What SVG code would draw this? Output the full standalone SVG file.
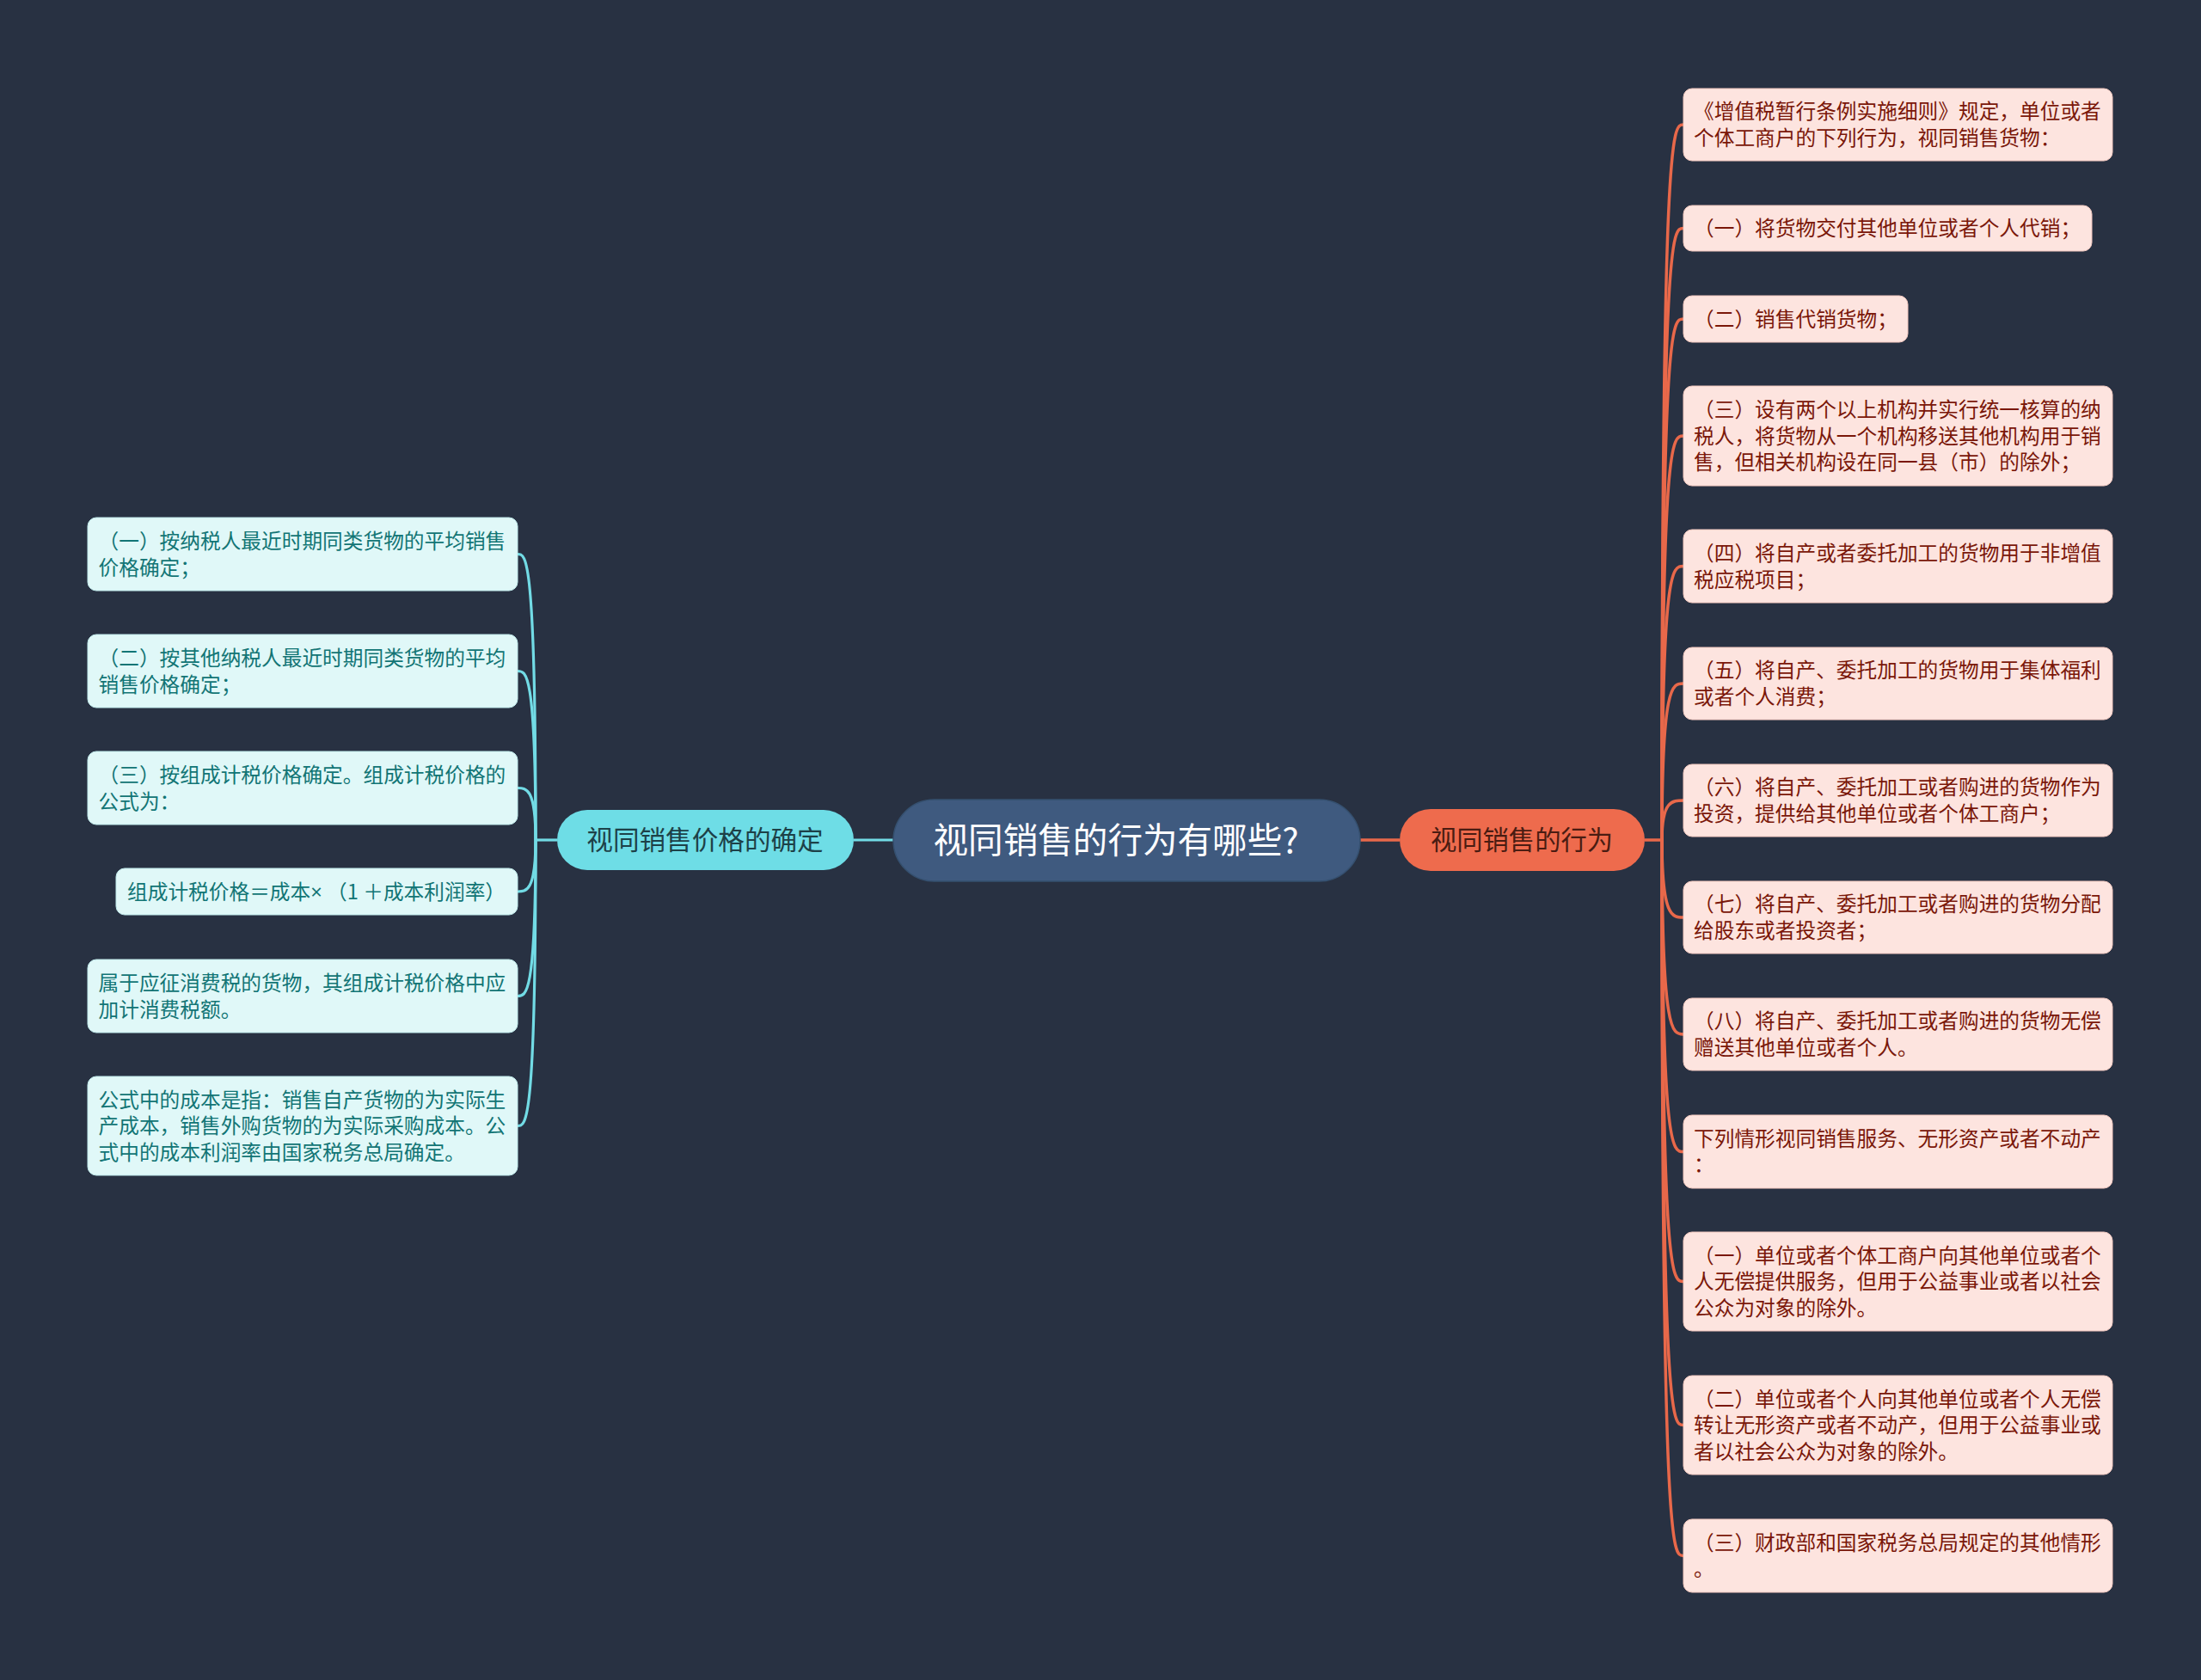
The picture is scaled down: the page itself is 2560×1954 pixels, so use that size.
<svg xmlns="http://www.w3.org/2000/svg" width="2560" height="1954" viewBox="0 0 2560 1954">
<style>
.bg{fill:#283142}
.t{font-family:"Noto Sans CJK SC","Noto Sans",sans-serif}
.rb{fill:#fde4df;stroke:#f3c9c0;stroke-width:1}
.lb{fill:#e0f8f8;stroke:#bfe9ea;stroke-width:1}
.rt{fill:#7a1709;font-size:23.7px}
.lt{fill:#127575;font-size:23.7px}
.oc{fill:none;stroke:#e8684a;stroke-width:3.5}
.cc{fill:none;stroke:#72dbe5;stroke-width:3.2}
</style>
<rect class="bg" x="0" y="0" width="2560" height="1954"/>
<g id="connectors">
<path class="oc" d="M1582 977 H1628" stroke-width="4"/>
<path class="cc" d="M993 977 H1039" stroke-width="4"/>
<path class="oc" d="M1913 977 H1933"/>
<path class="oc" d="M1933 977 C1933 145 1945 145 1958 145"/>
<path class="oc" d="M1933 977 C1933 265.5 1945 265.5 1958 265.5"/>
<path class="oc" d="M1933 977 C1933 371 1945 371 1958 371"/>
<path class="oc" d="M1933 977 C1933 507 1945 507 1958 507"/>
<path class="oc" d="M1933 977 C1933 658.5 1945 658.5 1958 658.5"/>
<path class="oc" d="M1933 977 C1933 795 1945 795 1958 795"/>
<path class="oc" d="M1933 977 C1933 931 1945 931 1958 931"/>
<path class="oc" d="M1933 977 C1933 1067 1945 1067 1958 1067"/>
<path class="oc" d="M1933 977 C1933 1203 1945 1203 1958 1203"/>
<path class="oc" d="M1933 977 C1933 1339.5 1945 1339.5 1958 1339.5"/>
<path class="oc" d="M1933 977 C1933 1490.5 1945 1490.5 1958 1490.5"/>
<path class="oc" d="M1933 977 C1933 1657.5 1945 1657.5 1958 1657.5"/>
<path class="oc" d="M1933 977 C1933 1809.5 1945 1809.5 1958 1809.5"/>
<path class="cc" d="M648 977 H623"/>
<path class="cc" d="M623 977 C623 644.5 612 644.5 602 644.5"/>
<path class="cc" d="M623 977 C623 780.5 612 780.5 602 780.5"/>
<path class="cc" d="M623 977 C623 916.5 612 916.5 602 916.5"/>
<path class="cc" d="M623 977 C623 1037 612 1037 602 1037"/>
<path class="cc" d="M623 977 C623 1158.5 612 1158.5 602 1158.5"/>
<path class="cc" d="M623 977 C623 1309.5 612 1309.5 602 1309.5"/>
</g>
<g id="root">
<rect x="1039" y="930" width="543" height="95" rx="47.5" fill="#3f5a7f" stroke="#35506f" stroke-width="1.5"/>
<text class="t" x="1298" y="992" text-anchor="middle" font-size="40.6" fill="#ffffff">视同销售的行为有哪些?</text>
</g>
<g id="n-right">
<rect x="1628" y="941" width="285" height="72" rx="36" fill="#ee6b4d"/>
<text class="t" x="1770" y="988" text-anchor="middle" font-size="30.3" fill="#4a1c12">视同销售的行为</text>
</g>
<g id="n-left">
<rect x="648" y="942" width="345" height="70" rx="35" fill="#6edde6"/>
<text class="t" x="820" y="988" text-anchor="middle" font-size="30.6" fill="#1d4148">视同销售价格的确定</text>
</g>
<g id="r1"><rect class="rb" x="1958" y="103" width="499" height="84" rx="10"/>
<text class="t rt" x="1970"><tspan x="1970" y="138">《增值税暂行条例实施细则》规定，单位或者</tspan><tspan x="1970" y="169">个体工商户的下列行为，视同销售货物：</tspan></text></g>
<g id="r2"><rect class="rb" x="1958" y="239" width="475" height="53" rx="10"/>
<text class="t rt" x="1970" y="274">（一）将货物交付其他单位或者个人代销；</text></g>
<g id="r3"><rect class="rb" x="1958" y="344" width="261" height="54" rx="10"/>
<text class="t rt" x="1970" y="379.5">（二）销售代销货物；</text></g>
<g id="r4"><rect class="rb" x="1958" y="449" width="499" height="116" rx="10"/>
<text class="t rt"><tspan x="1970" y="485">（三）设有两个以上机构并实行统一核算的纳</tspan><tspan x="1970" y="515.5">税人，将货物从一个机构移送其他机构用于销</tspan><tspan x="1970" y="546">售，但相关机构设在同一县（市）的除外；</tspan></text></g>
<g id="r5"><rect class="rb" x="1958" y="616" width="499" height="85" rx="10"/>
<text class="t rt"><tspan x="1970" y="652">（四）将自产或者委托加工的货物用于非增值</tspan><tspan x="1970" y="682.5">税应税项目；</tspan></text></g>
<g id="r6"><rect class="rb" x="1958" y="753" width="499" height="84" rx="10"/>
<text class="t rt"><tspan x="1970" y="788">（五）将自产、委托加工的货物用于集体福利</tspan><tspan x="1970" y="818.5">或者个人消费；</tspan></text></g>
<g id="r7"><rect class="rb" x="1958" y="889" width="499" height="84" rx="10"/>
<text class="t rt"><tspan x="1970" y="924">（六）将自产、委托加工或者购进的货物作为</tspan><tspan x="1970" y="954.5">投资，提供给其他单位或者个体工商户；</tspan></text></g>
<g id="r8"><rect class="rb" x="1958" y="1025" width="499" height="84" rx="10"/>
<text class="t rt"><tspan x="1970" y="1060">（七）将自产、委托加工或者购进的货物分配</tspan><tspan x="1970" y="1090.5">给股东或者投资者；</tspan></text></g>
<g id="r9"><rect class="rb" x="1958" y="1161" width="499" height="84" rx="10"/>
<text class="t rt"><tspan x="1970" y="1196">（八）将自产、委托加工或者购进的货物无偿</tspan><tspan x="1970" y="1226.5">赠送其他单位或者个人。</tspan></text></g>
<g id="r10"><rect class="rb" x="1958" y="1297" width="499" height="85" rx="10"/>
<text class="t rt"><tspan x="1970" y="1332.5">下列情形视同销售服务、无形资产或者不动产</tspan><tspan x="1970" y="1363">：</tspan></text></g>
<g id="r11"><rect class="rb" x="1958" y="1433" width="499" height="115" rx="10"/>
<text class="t rt"><tspan x="1970" y="1468.5">（一）单位或者个体工商户向其他单位或者个</tspan><tspan x="1970" y="1499">人无偿提供服务，但用于公益事业或者以社会</tspan><tspan x="1970" y="1529.5">公众为对象的除外。</tspan></text></g>
<g id="r12"><rect class="rb" x="1958" y="1600" width="499" height="115" rx="10"/>
<text class="t rt"><tspan x="1970" y="1635.5">（二）单位或者个人向其他单位或者个人无偿</tspan><tspan x="1970" y="1666">转让无形资产或者不动产，但用于公益事业或</tspan><tspan x="1970" y="1696.5">者以社会公众为对象的除外。</tspan></text></g>
<g id="r13"><rect class="rb" x="1958" y="1767" width="499" height="85" rx="10"/>
<text class="t rt"><tspan x="1970" y="1802.5">（三）财政部和国家税务总局规定的其他情形</tspan><tspan x="1970" y="1833">。</tspan></text></g>
<g id="l1"><rect class="lb" x="102" y="602" width="500" height="85" rx="10"/>
<text class="t lt"><tspan x="114.5" y="638">（一）按纳税人最近时期同类货物的平均销售</tspan><tspan x="114.5" y="668.5">价格确定；</tspan></text></g>
<g id="l2"><rect class="lb" x="102" y="738" width="500" height="85" rx="10"/>
<text class="t lt"><tspan x="114.5" y="774">（二）按其他纳税人最近时期同类货物的平均</tspan><tspan x="114.5" y="804.5">销售价格确定；</tspan></text></g>
<g id="l3"><rect class="lb" x="102" y="874" width="500" height="85" rx="10"/>
<text class="t lt"><tspan x="114.5" y="910">（三）按组成计税价格确定。组成计税价格的</tspan><tspan x="114.5" y="940.5">公式为：</tspan></text></g>
<g id="l4"><rect class="lb" x="135" y="1010" width="467" height="54" rx="10"/>
<text class="t lt" x="148" y="1045.5">组成计税价格＝成本<tspan font-family="'Noto Sans',sans-serif">×</tspan> （1 ＋成本利润率）</text></g>
<g id="l5"><rect class="lb" x="102" y="1116" width="500" height="85" rx="10"/>
<text class="t lt"><tspan x="114.5" y="1152">属于应征消费税的货物，其组成计税价格中应</tspan><tspan x="114.5" y="1182.5">加计消费税额。</tspan></text></g>
<g id="l6"><rect class="lb" x="102" y="1252" width="500" height="115" rx="10"/>
<text class="t lt"><tspan x="114.5" y="1287.5">公式中的成本是指：销售自产货物的为实际生</tspan><tspan x="114.5" y="1318">产成本，销售外购货物的为实际采购成本。公</tspan><tspan x="114.5" y="1348.5">式中的成本利润率由国家税务总局确定。</tspan></text></g>
</svg>
